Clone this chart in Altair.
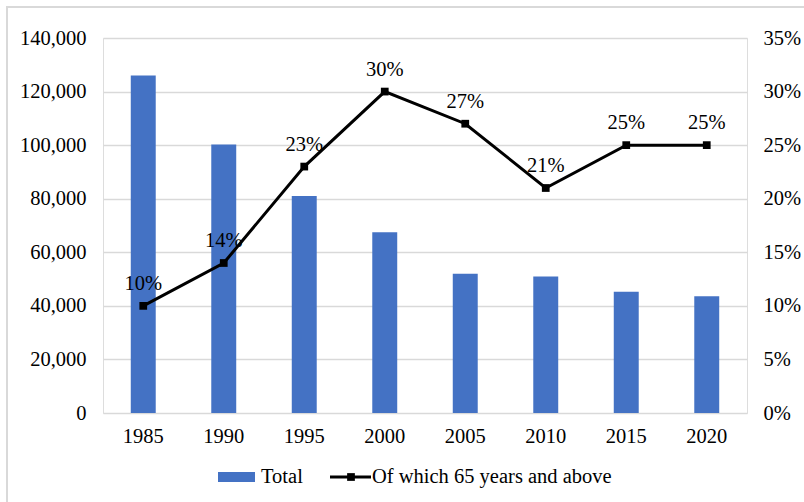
import altair as alt
import pandas as pd

years = ["1985", "1990", "1995", "2000", "2005", "2010", "2015", "2020"]
total = [126000, 100200, 81000, 67500, 52000, 51000, 45300, 43600]
share_65 = [0.10, 0.14, 0.23, 0.30, 0.27, 0.21, 0.25, 0.25]
left_ticks = [0, 20000, 40000, 60000, 80000, 100000, 120000, 140000]
right_ticks = [0, 0.05, 0.10, 0.15, 0.20, 0.25, 0.30, 0.35]
legend_labels = ["Total", "Of which 65 years and above"]

df = pd.DataFrame({"year": years, "total": total, "share": share_65})

FONT = "Liberation Serif"
FS = 20.5
BLUE = "#4472C4"
GRID = "#d9d9d9"

x = alt.X("year:N", sort=years, title=None,
          scale=alt.Scale(paddingInner=0.69, paddingOuter=0.345),
          axis=alt.Axis(labelAngle=0, domain=False, ticks=False, labelPadding=13,
                        labelFont=FONT, labelFontSize=FS, labelColor="#000"))

bars = alt.Chart(df).mark_bar(color=BLUE).encode(
    x=x,
    y=alt.Y("total:Q", title=None,
            scale=alt.Scale(domain=[0, 140000], nice=False),
            axis=alt.Axis(values=left_ticks, format=",.0f", domain=False, ticks=False,
                          labelPadding=17, grid=True, gridColor=GRID, gridWidth=1.5,
                          labelFont=FONT, labelFontSize=FS, labelColor="#000")),
)

yp = alt.Y("share:Q", title=None,
           scale=alt.Scale(domain=[0, 0.35], nice=False),
           axis=alt.Axis(values=right_ticks, format=".0%", orient="right", domain=False,
                         ticks=False, grid=False, labelPadding=16,
                         labelFont=FONT, labelFontSize=FS, labelColor="#000"))

line = alt.Chart(df).mark_line(color="#000", strokeWidth=3,
                               point=alt.OverlayMarkDef(shape="square", size=60,
                                                        color="#000", filled=True,
                                                        opacity=1)).encode(x=x, y=yp)
labels = alt.Chart(df).mark_text(font=FONT, fontSize=FS, color="#000",
                                 baseline="middle", dy=-22).encode(
    x=x, y=yp, text=alt.Text("share:Q", format=".0%"))

pct = alt.layer(line, labels)

one = pd.DataFrame({"a": [0]})
frame = alt.Chart(one).mark_rect(fill=None, stroke="#d9d9d9", strokeWidth=2).encode(
    x=alt.value(-96), x2=alt.value(760), y=alt.value(-31), y2=alt.value(520))
leg_rect = alt.Chart(one).mark_rect(color=BLUE).encode(
    x=alt.value(115), x2=alt.value(152), y=alt.value(434), y2=alt.value(444))
leg_t1 = alt.Chart(one).mark_text(font=FONT, fontSize=FS, color="#000", align="left",
                                  baseline="middle").encode(
    x=alt.value(158), y=alt.value(439), text=alt.value(legend_labels[0]))
leg_line = alt.Chart(one).mark_rule(color="#000", strokeWidth=3).encode(
    x=alt.value(227), x2=alt.value(268), y=alt.value(439))
leg_pt = alt.Chart(one).mark_point(shape="square", size=60, filled=True, color="#000",
                                   opacity=1).encode(x=alt.value(248), y=alt.value(439))
leg_t2 = alt.Chart(one).mark_text(font=FONT, fontSize=FS, color="#000", align="left",
                                  baseline="middle").encode(
    x=alt.value(269), y=alt.value(439), text=alt.value(legend_labels[1]))

chart = alt.layer(
    bars, pct, frame, leg_rect, leg_t1, leg_line, leg_pt, leg_t2
).resolve_scale(y="independent").properties(
    width=644, height=375,
    autosize=alt.AutoSizeParams(type="none"),
    padding={"left": 103, "top": 38, "right": 57, "bottom": 89},
).configure_view(stroke=None).configure(
    background="white", font=FONT
).configure_text(font=FONT).configure_axis(labelFont=FONT)

chart.save("out.html", embed_options={"renderer": "svg", "actions": False})
